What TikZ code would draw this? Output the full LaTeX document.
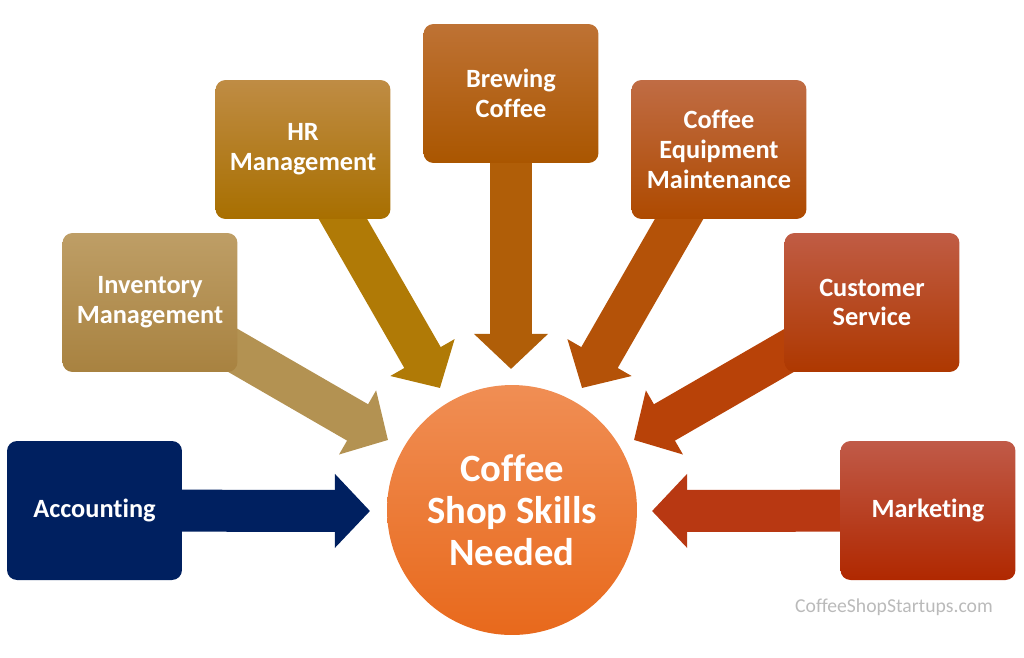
\documentclass[tikz,border=0pt]{standalone}
\usepackage{fontspec}
\setmainfont{Carlito}[Ligatures=NoCommon]
\usepackage{xcolor}
\usepackage{tikz}
\usetikzlibrary{arrows.meta, backgrounds}
\definecolor{accColor}{HTML}{002060}
\definecolor{invTop}{HTML}{BE9E66}
\definecolor{invBot}{HTML}{A88240}
\definecolor{invArrow}{HTML}{B39252}
\definecolor{hrTop}{HTML}{BF8C44}
\definecolor{hrBot}{HTML}{A86F00}
\definecolor{hrArrow}{HTML}{B07A06}
\definecolor{brewTop}{HTML}{BE7234}
\definecolor{brewBot}{HTML}{AA5600}
\definecolor{brewArrow}{HTML}{B05E08}
\definecolor{equipTop}{HTML}{C06C44}
\definecolor{equipBot}{HTML}{AE4A00}
\definecolor{equipArrow}{HTML}{B45208}
\definecolor{custTop}{HTML}{C05C44}
\definecolor{custBot}{HTML}{AE3800}
\definecolor{custArrow}{HTML}{B84208}
\definecolor{mktTop}{HTML}{C05A48}
\definecolor{mktBot}{HTML}{B02800}
\definecolor{mktArrow}{HTML}{B83812}
\definecolor{hubTop}{HTML}{F08E54}
\definecolor{hubBot}{HTML}{E8691C}

\begin{document}
\begin{tikzpicture}[x=0.02cm, y=-0.02cm,
    skillbox/.style={rounded corners=0.2cm, minimum width=3.5cm, minimum height=2.78cm,
        inner sep=0pt, align=center, text=white, font=\bfseries\fontsize{15}{17}\selectfont},
    feed/.style={line width=23.9pt, -{Triangle[width=41pt, length=20pt]}}]
    \useasboundingbox (0,0) rectangle (1024,657);
    % skill boxes
    \node[skillbox, fill=accColor] (acc) at (94.5,510.5) {Accounting};
    \node[skillbox, top color=invTop, bottom color=invBot] (inv) at (150,302.5) {Inventory\\Management};
    \node[skillbox, top color=hrTop, bottom color=hrBot] (hr) at (303,149.5) {HR\\Management};
    \node[skillbox, top color=brewTop, bottom color=brewBot] (brew) at (511,93.5) {Brewing\\Coffee};
    \node[skillbox, top color=equipTop, bottom color=equipBot] (equip) at (719,149.5) {Coffee\\Equipment\\Maintenance};
    \node[skillbox, top color=custTop, bottom color=custBot] (cust) at (872,302.5) {Customer\\Service};
    \node[skillbox, top color=mktTop, bottom color=mktBot] (mkt) at (928,510.5) {Marketing};
    % centre
    \node[circle, minimum size=5cm, inner sep=0pt, top color=hubTop, bottom color=hubBot,
        align=center, text=white, font=\bfseries\fontsize{22}{24}\selectfont] (hub) at (512,510)
        {Coffee\\Shop Skills\\Needed};
    \coordinate (accTip) at (370,511);
    \coordinate (invTip) at (388,440);
    \coordinate (hrTip) at (440,388);
    \coordinate (brewTip) at (511,369);
    \coordinate (equipTip) at (582,388);
    \coordinate (custTip) at (634,440);
    \coordinate (mktTip) at (652,511);
    \begin{scope}[on background layer]
        \draw[feed, accColor] (acc.center) -- (accTip);
        \draw[feed, invArrow] (inv.center) -- (invTip);
        \draw[feed, hrArrow] (hr.center) -- (hrTip);
        \draw[feed, brewArrow] (brew.center) -- (brewTip);
        \draw[feed, equipArrow] (equip.center) -- (equipTip);
        \draw[feed, custArrow] (cust.center) -- (custTip);
        \draw[feed, mktArrow] (mkt.center) -- (mktTip);
    \end{scope}
    \node[anchor=east, text=black!27, font=\fontsize{11.2}{13}\selectfont] (credit) at (999,607) {CoffeeShopStartups.com};
\end{tikzpicture}
\end{document}
